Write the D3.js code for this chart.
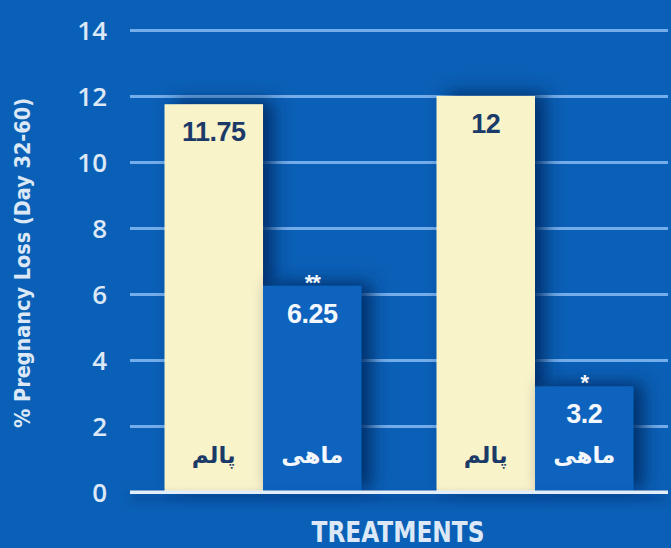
<!DOCTYPE html>
<html>
<head>
<meta charset="utf-8">
<script src="https://cdn.jsdelivr.net/npm/d3@7"></script>
<style>
  html, body { margin: 0; padding: 0; background: #0a60b6; }
  svg { display: block; }
</style>
</head>
<body>
<svg id="chart" width="671" height="548"></svg>
<script>
// ---- data ----
const groups = ["T1", "T2"];
const seriesNames = ["پالم", "ماهی"];
const palmValues = [11.75, 12];
const fishValues = [6.25, 3.2];
const significance = ["**", "*"];
const yTicks = [0, 2, 4, 6, 8, 10, 12, 14];
const yLabel = "% Pregnancy Loss (Day 32-60)";
const xLabel = "TREATMENTS";

const rows = groups.map((g, i) => ({ group: g, values: [palmValues[i], fishValues[i]], sig: significance[i] }));

const W = 671, H = 548;
const svg = d3.select("#chart");

const colors = { bg: "#0a60b6", palm: "#f8f3c8", fish: "#0d64bd", grid: "#74aeea", base: "#e4eefa", tick: "#dce8f6", navy: "#1c3a68", white: "#f4f8fd" };

svg.append("rect").attr("width", W).attr("height", H).attr("fill", colors.bg);

const defs = svg.append("defs");
const f = defs.append("filter").attr("id", "shadow").attr("x", "-50%").attr("y", "-20%").attr("width", "200%").attr("height", "140%");
f.append("feDropShadow").attr("dx", 10).attr("dy", -3).attr("stdDeviation", 9)
  .attr("flood-color", "#012a66").attr("flood-opacity", 0.95);
const fb = defs.append("filter").attr("id", "baseshadow").attr("filterUnits", "userSpaceOnUse")
  .attr("x", 100).attr("y", 470).attr("width", 571).attr("height", 60);
fb.append("feDropShadow").attr("dx", 0).attr("dy", 6).attr("stdDeviation", 5)
  .attr("flood-color", "#022e6e").attr("flood-opacity", 0.7);

const left = 130, right = 668;
const y = d3.scaleLinear().domain([0, 14]).range([492, 30]);
const x0 = d3.scaleBand().domain(groups).range([left, right]).paddingInner(0.276).paddingOuter(0.127).align(0.5);
const x1 = d3.scaleBand().domain(seriesNames).range([0, x0.bandwidth()]);

// gridlines
const gGrid = svg.append("g").attr("transform", `translate(${left},0)`)
  .call(d3.axisRight(y).tickValues(yTicks.filter(t => t !== 0)).tickSize(right - left).tickFormat(""));
gGrid.select(".domain").remove();
gGrid.selectAll(".tick line").attr("stroke", colors.grid).attr("stroke-width", 3);

// tick labels
const gLab = svg.append("g").attr("transform", `translate(107,0)`)
  .call(d3.axisLeft(y).tickValues(yTicks).tickSize(0).tickPadding(0).tickFormat(d3.format("d")));
gLab.select(".domain").remove();
gLab.selectAll(".tick text")
  .attr("fill", colors.tick)
  .attr("font-family", "'Open Sans', 'Liberation Sans', sans-serif")
  .attr("font-weight", 600)
  .attr("font-size", 26)
  .attr("dy", "0.36em");

// bars
const gBars = svg.append("g");
rows.forEach(r => {
  const g = gBars.append("g").attr("transform", `translate(${x0(r.group)},0)`);
  seriesNames.forEach((s, j) => {
    g.append("rect")
      .attr("x", x1(s))
      .attr("y", y(r.values[j]))
      .attr("width", x1.bandwidth())
      .attr("height", y(0) - y(r.values[j]))
      .attr("fill", j === 0 ? colors.palm : colors.fish)
      .attr("filter", "url(#shadow)");
  });
});

// baseline
svg.append("rect").attr("x", left).attr("width", right - left).attr("y", y(0) - 1.5).attr("height", 3.5)
  .attr("fill", colors.base).attr("filter", "url(#baseshadow)");

// labels on bars
const numFont = "'Liberation Sans', Arial, sans-serif";
const arFont = "'DejaVu Sans', 'Noto Sans', sans-serif";
rows.forEach(r => {
  const gx = x0(r.group);
  seriesNames.forEach((s, j) => {
    const cx = gx + x1(s) + x1.bandwidth() / 2;
    const top = y(r.values[j]);
    const col = j === 0 ? colors.navy : colors.white;
    svg.append("text").attr("x", cx).attr("y", top + 37)
      .attr("text-anchor", "middle").attr("fill", col)
      .attr("font-family", numFont).attr("font-weight", 700).attr("font-size", 27)
      .attr("letter-spacing", -0.5)
      .text(String(r.values[j]));
    svg.append("text").attr("x", cx).attr("y", 463)
      .attr("text-anchor", "middle").attr("fill", col)
      .attr("font-family", arFont).attr("font-weight", 700).attr("font-size", 23)
      .attr("direction", "rtl")
      .text(s);
    if (j === 1) {
      svg.append("text").attr("x", cx).attr("y", top + 4)
        .attr("text-anchor", "middle").attr("fill", colors.white)
        .attr("font-family", numFont).attr("font-weight", 700).attr("font-size", 22)
        .attr("letter-spacing", -1)
        .text(r.sig);
    }
  });
});

// axis titles
svg.append("text")
  .attr("transform", `translate(30,263) rotate(-90)`)
  .attr("text-anchor", "middle").attr("fill", colors.tick)
  .attr("font-family", "'Liberation Sans Narrow', 'DejaVu Sans Condensed', sans-serif")
  .attr("font-weight", 700).attr("font-size", 21)
  .attr("textLength", 330).attr("lengthAdjust", "spacingAndGlyphs")
  .text(yLabel);

svg.append("text")
  .attr("x", 398).attr("y", 542)
  .attr("text-anchor", "middle").attr("fill", colors.tick)
  .attr("font-family", "'Liberation Sans Narrow', 'DejaVu Sans Condensed', sans-serif")
  .attr("font-weight", 700).attr("font-size", 28)
  .attr("textLength", 173).attr("lengthAdjust", "spacingAndGlyphs")
  .text(xLabel);
</script>
</body>
</html>
